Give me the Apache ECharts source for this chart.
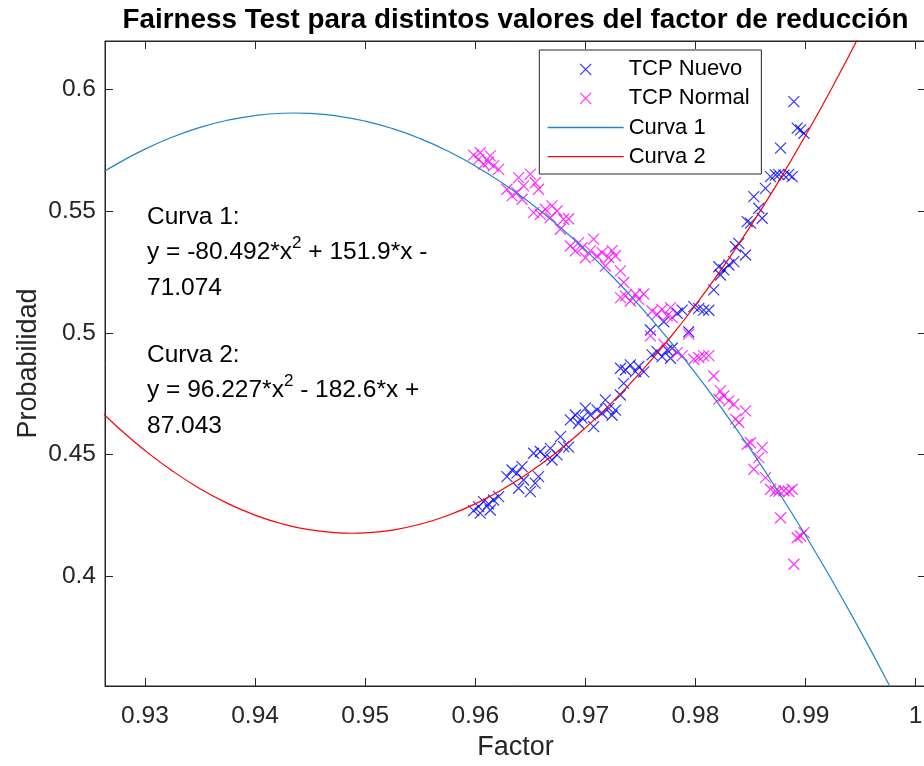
<!DOCTYPE html>
<html><head><meta charset="utf-8">
<script src="https://cdn.jsdelivr.net/npm/echarts@6/dist/echarts.min.js"></script>
<style>html,body{margin:0;padding:0;background:#fff}#c{width:924px;height:766px}</style>
</head><body><div id="c"></div>
<script>
// ---- data ----
const factorVals = [
0.95985,0.96030,0.96075,0.96045,0.96121,0.96166,0.96212,0.96136,0.96288,0.96334,
0.96379,0.96425,0.96394,0.96439,0.96500,0.96545,0.96575,0.96530,0.96591,0.96636,
0.96697,0.96743,0.96682,0.96773,0.96803,0.96848,0.96864,0.96909,0.96939,0.96970,
0.97000,0.97045,0.97075,0.97106,0.97152,0.97182,0.97212,0.97243,0.97273,0.97318,
0.97348,0.97320,0.97364,0.97409,0.97455,0.97485,0.97530,0.97606,0.97652,0.97697,
0.97743,0.97788,0.97773,0.97591,0.97712,0.97939,0.97834,0.97879,0.97985,0.98030,
0.98075,0.98121,0.98166,0.98212,0.98227,0.98257,0.98303,0.98348,0.98364,0.98394,
0.98455,0.98470,0.98500,0.98575,0.98606,0.98530,0.98636,0.98682,0.98727,0.98757,
0.98803,0.98848,0.98879,0.98773,0.98894,0.98924,0.98955,0.98985];
const nuevoVals = [
0.4270,0.4287,0.4307,0.4260,0.4298,0.4314,0.4328,0.4273,0.4410,0.4437,
0.4424,0.4451,0.4362,0.4396,0.4348,0.4383,0.4410,0.4506,0.4513,0.4492,
0.4478,0.4499,0.4526,0.4574,0.4533,0.4531,0.4643,0.4663,0.4629,0.4650,
0.4691,0.4663,0.4615,0.4684,0.4670,0.4725,0.4690,0.4662,0.4683,0.4745,
0.4793,0.4855,0.4848,0.4869,0.4841,0.4862,0.4840,0.4910,0.4923,0.4903,
0.4930,0.4937,0.4896,0.5012,0.5046,0.5005,0.5081,0.5094,0.5108,0.5101,
0.5094,0.5093,0.5177,0.5272,0.5238,0.5259,0.5279,0.5293,0.5354,0.5368,
0.5320,0.5457,0.5451,0.5512,0.5471,0.5560,0.5594,0.5642,0.5649,0.5650,
0.5648,0.5651,0.5642,0.5759,0.5950,0.5841,0.5834,0.5820];
const normalVals = [
0.5730,0.5713,0.5693,0.5740,0.5702,0.5686,0.5672,0.5727,0.5590,0.5563,
0.5576,0.5549,0.5638,0.5604,0.5652,0.5617,0.5590,0.5494,0.5487,0.5508,
0.5522,0.5501,0.5474,0.5426,0.5467,0.5469,0.5357,0.5337,0.5371,0.5350,
0.5309,0.5337,0.5385,0.5316,0.5330,0.5275,0.5310,0.5338,0.5317,0.5255,
0.5207,0.5145,0.5152,0.5131,0.5159,0.5138,0.5160,0.5090,0.5077,0.5097,
0.5070,0.5063,0.5104,0.4988,0.4954,0.4995,0.4919,0.4906,0.4892,0.4899,
0.4906,0.4907,0.4823,0.4728,0.4762,0.4741,0.4721,0.4707,0.4646,0.4632,
0.4680,0.4543,0.4549,0.4488,0.4529,0.4440,0.4406,0.4358,0.4351,0.4350,
0.4352,0.4349,0.4358,0.4241,0.4050,0.4159,0.4166,0.4180];
const curva1X = [0.925,0.9275,0.93,0.9325,0.935,0.9375,0.94,0.9425,0.94357,0.945,0.9475,0.95,0.9525,0.955,0.9575,0.96,0.9625,
  0.965,0.9675,0.97,0.9725,0.975,0.9775,0.98,0.9825,0.985,0.9875,0.99,0.9925,0.995,0.9975,1.0];
const curva1Vals = [0.56256,0.56953,0.57549,0.58045,0.58441,0.58735,0.58929,0.59023,0.59032,0.59016,0.58908,0.58699,0.58390,
  0.57981,0.57471,0.56860,0.56148,0.55336,0.54423,0.53410,0.52296,0.51082,0.49767,0.48351,0.46834,0.45217,0.43499,
  0.41681,0.39763,0.37743,0.35623,0.33402];
const curva2X = [0.925,0.9275,0.93,0.9325,0.935,0.9375,0.94,0.9425,0.945,0.9475,0.9488,0.95,0.9525,0.955,0.9575,0.96,0.9625,
  0.965,0.9675,0.97,0.9725,0.975,0.9775,0.98,0.9825,0.985,0.9875,0.99,0.9925,0.995,0.9975,1.0];
const curva2Vals = [0.47223,0.46138,0.45173,0.44329,0.43605,0.43001,0.42518,0.42155,0.41912,0.41789,0.41773,0.41787,0.41905,
  0.42143,0.42502,0.42981,0.43580,0.44299,0.45139,0.46099,0.47179,0.48379,0.49700,0.51141,0.52703,0.54384,0.56186,
  0.58108,0.60151,0.62314,0.64597,0.67000];
const xTicks = [0.93,0.94,0.95,0.96,0.97,0.98,0.99,1];
const yTicks = [0.4,0.45,0.5,0.55,0.6];
const seriesNames = ['TCP Nuevo','TCP Normal','Curva 1','Curva 2'];
const titleText = 'Fairness Test para distintos valores del factor de reducción';
const note1 = ['Curva 1:', 'y = -80.492*x', '2', ' + 151.9*x -', '71.074'];
const note2 = ['Curva 2:', 'y = 96.227*x', '2', ' - 182.6*x +', '87.043'];

// ---- chart ----
const FONT = "'Liberation Sans', Arial, Helvetica, sans-serif";
const AX = '#262626';
const C1 = '#1f84cc', C2 = '#ff0000';
const fmt = v => String(+(+v).toFixed(2));
const xMin = 0.92637, xMax = 1.00094, yMin = 0.355, yMax = 0.6199;
const xSym = 'path://M0,0L10,10M10,0L0,10';

function noteGraphic(lines, y) {
  return {
    type: 'text', x: 147, y: y, silent: true,
    style: {
      text: '{n|' + lines[0] + '}\n{n|' + lines[1] + '}{s|' + lines[2] + '}{n|' + lines[3] + '}\n{n|' + lines[4] + '}',
      align: 'left', verticalAlign: 'top',
      rich: {
        n: {fontFamily: FONT, fontSize: 24.5, lineHeight: 35.5, fill: '#000', color: '#000'},
        s: {fontFamily: FONT, fontSize: 17, lineHeight: 20, verticalAlign: 'top', fill: '#000', color: '#000'}
      }
    }
  };
}

function mkAxis(isX, main) {
  const ticks = isX ? xTicks : yTicks;
  const a = {
    type: 'value', min: isX ? xMin : yMin, max: isX ? xMax : yMax,
    position: isX ? (main ? 'bottom' : 'top') : (main ? 'left' : 'right'),
    axisLine: {show: true, onZero: false, lineStyle: {color: AX, width: 1}},
    axisTick: {show: true, inside: true, length: 8, customValues: ticks, lineStyle: {color: AX, width: 1}},
    axisLabel: {show: main, customValues: ticks, formatter: fmt, margin: isX ? 18 : 9,
      fontFamily: FONT, fontSize: 24.5, color: AX},
    splitLine: {show: false}
  };
  if (main) {
    a.name = isX ? 'Factor' : 'Probabilidad';
    a.nameLocation = 'middle';
    a.nameGap = isX ? 48.5 : 63;
    a.nameMoveOverlap = false;
    a.nameTextStyle = {fontFamily: FONT, fontSize: 27, color: AX};
  }
  return a;
}

const chart = echarts.init(document.getElementById('c'), null, {renderer: 'canvas', width: 924, height: 766});
chart.setOption({
  animation: false,
  backgroundColor: '#fff',
  title: {text: titleText, left: 515.5, top: 6, textAlign: 'center', padding: 0,
    textStyle: {fontFamily: FONT, fontSize: 27.8, fontWeight: 'bold', color: '#000'}},
  grid: {left: 105, top: 41, right: -2, bottom: 80, show: true, borderColor: AX, borderWidth: 1,
    backgroundColor: '#fff', containLabel: false, outerBoundsMode: 'none'},
  xAxis: [mkAxis(true, true), mkAxis(true, false)],
  yAxis: [mkAxis(false, true), mkAxis(false, false)],
  legend: {
    orient: 'vertical', left: 539.3, top: 50, padding: [8.3, 11.7, 6.4, 7.7],
    itemWidth: 76, itemHeight: 11, itemGap: 7.1,
    backgroundColor: '#fff', borderColor: AX, borderWidth: 1, borderRadius: 0,
    textStyle: {fontFamily: FONT, fontSize: 22, color: '#000', lineHeight: 22},
    itemStyle: {borderWidth: 1.2},
    selectedMode: false,
    data: [
      {name: seriesNames[0]},
      {name: seriesNames[1]},
      {name: seriesNames[2], itemStyle: {opacity: 0}, lineStyle: {color: C1, width: 1.3, opacity: 1}},
      {name: seriesNames[3], itemStyle: {opacity: 0}, lineStyle: {color: C2, width: 1.3, opacity: 1}}
    ]
  },
  graphic: [noteGraphic(note1, 199.25), noteGraphic(note2, 337.25)],
  series: [
    {name: seriesNames[0], type: 'scatter', data: factorVals.map((x, i) => [x, nuevoVals[i]]),
      symbol: xSym, symbolSize: 11, silent: true,
      itemStyle: {color: 'rgba(0,0,0,0)', borderColor: '#0000ff', borderWidth: 1.2}},
    {name: seriesNames[1], type: 'scatter', data: factorVals.map((x, i) => [x, normalVals[i]]),
      symbol: xSym, symbolSize: 11, silent: true,
      itemStyle: {color: 'rgba(0,0,0,0)', borderColor: '#ff00ff', borderWidth: 1.2}},
    {name: seriesNames[2], type: 'line', data: curva1X.map((x, i) => [x, curva1Vals[i]]),
      smooth: true, symbol: 'none', clip: true, silent: true,
      lineStyle: {color: C1, width: 1.2}, itemStyle: {color: C1}},
    {name: seriesNames[3], type: 'line', data: curva2X.map((x, i) => [x, curva2Vals[i]]),
      smooth: true, symbol: 'none', clip: true, silent: true,
      lineStyle: {color: C2, width: 1.2}, itemStyle: {color: C2}}
  ]
});
</script>
</body></html>
